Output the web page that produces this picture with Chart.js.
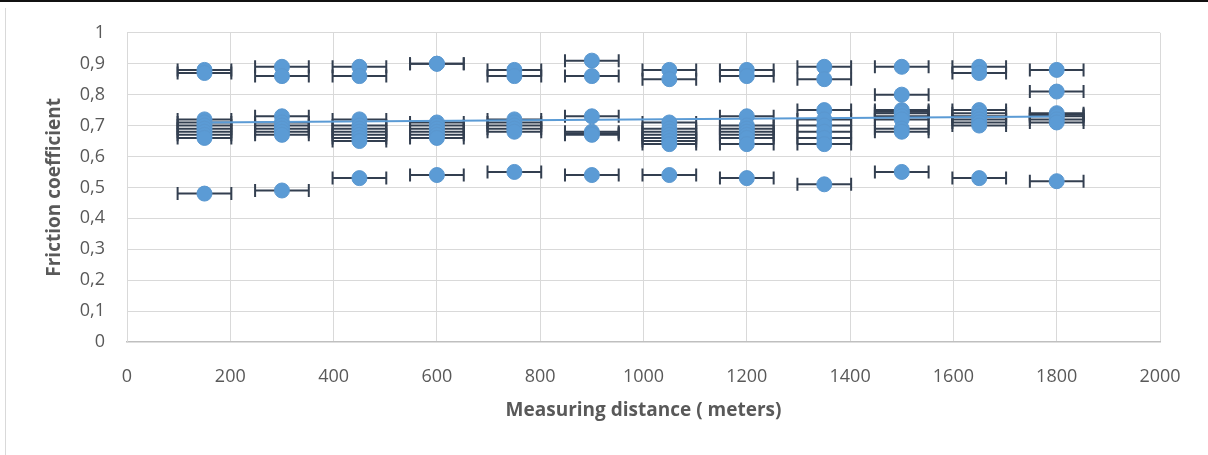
<!DOCTYPE html>
<html>
<head>
<meta charset="utf-8">
<script src="https://cdn.jsdelivr.net/npm/chart.js@4/dist/chart.umd.min.js"></script>
<style>
  html, body { margin: 0; padding: 0; background: #fff; }
  #wrap { position: relative; width: 1208px; height: 455px; overflow: hidden; }
  #topline { position: absolute; left: 0; top: 0; width: 1208px; height: 2px; background: #111; }
  #leftline { position: absolute; left: 5px; top: 8px; width: 1px; height: 447px; background: #d9d9d9; }
  canvas { position: absolute; left: 0; top: 0; }
</style>
</head>
<body>
<div id="wrap">
  <canvas id="c" width="1208" height="455"></canvas>
  <div id="topline"></div>
  <div id="leftline"></div>
</div>
<script>
// Measuring distances (meters)
const distances = [150, 300, 450, 600, 750, 900, 1050, 1200, 1350, 1500, 1650, 1800];

// Friction coefficients measured at each distance
const friction150  = [0.88, 0.87, 0.72, 0.71, 0.70, 0.69, 0.68, 0.67, 0.66, 0.48];
const friction300  = [0.89, 0.86, 0.73, 0.71, 0.70, 0.69, 0.68, 0.67, 0.49];
const friction450  = [0.89, 0.86, 0.72, 0.70, 0.69, 0.68, 0.67, 0.66, 0.65, 0.53];
const friction600  = [0.90, 0.90, 0.71, 0.70, 0.69, 0.68, 0.67, 0.66, 0.54];
const friction750  = [0.88, 0.86, 0.72, 0.71, 0.70, 0.69, 0.68, 0.55];
const friction900  = [0.91, 0.86, 0.73, 0.68, 0.675, 0.67, 0.54];
const friction1050 = [0.88, 0.85, 0.71, 0.69, 0.68, 0.67, 0.66, 0.65, 0.64, 0.54];
const friction1200 = [0.88, 0.86, 0.73, 0.70, 0.69, 0.68, 0.67, 0.66, 0.64, 0.53];
const friction1350 = [0.89, 0.85, 0.75, 0.72, 0.70, 0.68, 0.66, 0.64, 0.51];
const friction1500 = [0.89, 0.80, 0.75, 0.745, 0.74, 0.73, 0.72, 0.69, 0.68, 0.55];
const friction1650 = [0.89, 0.87, 0.75, 0.74, 0.73, 0.72, 0.71, 0.70, 0.53];
const friction1800 = [0.88, 0.81, 0.74, 0.735, 0.73, 0.72, 0.71, 0.52];

const frictionByDistance = [friction150, friction300, friction450, friction600, friction750, friction900,
  friction1050, friction1200, friction1350, friction1500, friction1650, friction1800];

// Horizontal error (meters)
const distanceError = 52;

// Linear trend line endpoints
const trendX = [150, 1800];
const trendY = [0.710, 0.729];

// Tick labels
const yTickLabels = ['0', '0,1', '0,2', '0,3', '0,4', '0,5', '0,6', '0,7', '0,8', '0,9', '1'];
const xTickLabels = ['0', '200', '400', '600', '800', '1000', '1200', '1400', '1600', '1800', '2000'];

// Build datasets
const points = [];
const errorSets = [];
distances.forEach((d, i) => {
  frictionByDistance[i].forEach(v => {
    points.push({ x: d, y: v });
    errorSets.push({
      type: 'scatter',
      data: [{ x: d - distanceError, y: v }, { x: d + distanceError, y: v }],
      showLine: true,
      borderColor: '#333f50',
      borderWidth: 2,
      pointStyle: 'line',
      rotation: 90,
      pointRadius: 6.5,
      pointHoverRadius: 6.5,
      pointBorderWidth: 2,
      pointBorderColor: '#333f50',
      pointBackgroundColor: '#333f50',
      order: 3
    });
  });
});

const datasets = [
  {
    type: 'scatter',
    data: points,
    pointRadius: 7.5,
    pointHoverRadius: 7.5,
    backgroundColor: '#5b9bd5',
    borderColor: '#5a97cf',
    borderWidth: 1,
    order: 1
  },
  {
    type: 'scatter',
    data: trendX.map((x, i) => ({ x: x, y: trendY[i] })),
    showLine: true,
    borderColor: '#5b9bd5',
    borderWidth: 2,
    pointRadius: 0,
    order: 2
  },
  ...errorSets
];

const tickFont = { family: '"Open Sans", sans-serif', size: 18 };
const titleFont = { family: '"Open Sans", sans-serif', size: 19, weight: 'bold' };

new Chart(document.getElementById('c'), {
  type: 'scatter',
  data: { datasets },
  options: {
    responsive: false,
    animation: false,
    events: [],
    layout: { padding: { top: 31, right: 48, left: 0, bottom: 0 } },
    plugins: { legend: { display: false }, tooltip: { enabled: false } },
    scales: {
      x: {
        type: 'linear',
        min: 0, max: 2000,
        ticks: {
          stepSize: 200,
          color: '#595959',
          font: tickFont,
          padding: 24,
          maxRotation: 0,
          callback: (v) => xTickLabels[Math.round(v / 200)]
        },
        grid: { color: '#d9d9d9', lineWidth: 1, drawTicks: false },
        border: { color: '#bfbfbf', width: 1.5 },
        title: {
          display: true,
          text: 'Measuring distance ( meters)',
          color: '#595959',
          font: titleFont,
          padding: { top: 0, bottom: 33 }
        },
        afterFit: (s) => { s.height = 113; }
      },
      y: {
        type: 'linear',
        min: 0, max: 1,
        ticks: {
          stepSize: 0.1,
          color: '#595959',
          font: tickFont,
          padding: 22,
          callback: (v) => yTickLabels[Math.round(v * 10)]
        },
        grid: { color: (ctx) => ctx.index === 0 ? 'rgba(0,0,0,0)' : '#d9d9d9', lineWidth: 1, drawTicks: false },
        border: { color: '#d9d9d9', width: 1 },
        title: {
          display: true,
          text: 'Friction coefficient',
          color: '#595959',
          font: titleFont,
          padding: { top: 43, bottom: 0 }
        },
        afterFit: (s) => { s.width = 127; }
      }
    }
  }
});
</script>
</body>
</html>
